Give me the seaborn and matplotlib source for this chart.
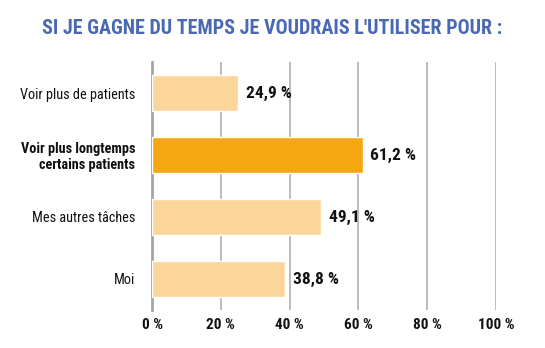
import matplotlib
matplotlib.use("Agg")
import matplotlib.pyplot as plt
import seaborn as sns
import pandas as pd

categories = ["Voir plus de patients", "Voir plus longtemps\ncertains patients", "Mes autres tâches", "Moi"]
values = [24.9, 61.2, 49.1, 38.8]
value_labels = ["24,9 %", "61,2 %", "49,1 %", "38,8 %"]
xticks = [0, 20, 40, 60, 80, 100]
xtick_labels = ["0 %", "20 %", "40 %", "60 %", "80 %", "100 %"]
highlight = [False, True, False, False]
title = "SI JE GAGNE DU TEMPS JE VOUDRAIS L'UTILISER POUR :"

sns.set_theme(style="white")
plt.rcParams['font.family'] = ['Roboto Condensed', 'DejaVu Sans']

light = "#FCD59B"
dark = "#F5A711"
colors = [dark if h else light for h in highlight]

df = pd.DataFrame({"cat": categories, "val": values})

fig = plt.figure(figsize=(5.45, 3.48), dpi=100)
ax = fig.add_axes([152/545, 1 - 310/348, (496-152)/545, (310-62)/348])

sns.barplot(data=df, y="cat", x="val", hue="cat", palette=colors, legend=False,
            orient="h", width=0.57, ax=ax, saturation=1, zorder=3)

ax.set_xlim(0, 100)
ax.set_ylim(3.5, -0.5)
ax.set_xticks(xticks)
ax.set_xticklabels(xtick_labels, fontsize=11, fontweight="bold", color="#111111")
ax.set_yticks([-0.5, 0.5, 1.5, 2.5, 3.5], minor=False)
ax.set_yticklabels([])
ax.set_yticks([0, 1, 2, 3], minor=True)
ax.set_yticklabels(categories, minor=True, fontsize=10.3, linespacing=1.15)
for i, lab in enumerate(ax.get_yticklabels(minor=True)):
    if highlight[i]:
        lab.set_fontweight("bold")
    lab.set_color("#111111")
ax.tick_params(axis="y", which="minor", length=0, pad=12)
ax.tick_params(axis="y", which="major", length=6, width=2, color="#A5A5A5", direction="out")
ax.tick_params(axis="x", length=0, pad=6)

for x in xticks[1:]:
    ax.axvline(x, color="#AAAAAA", lw=1.1, zorder=1)

for s in ["top", "right", "bottom"]:
    ax.spines[s].set_visible(False)
ax.spines["left"].set_color("#A5A5A5")
ax.spines["left"].set_linewidth(2)
ax.set_xlabel("")
ax.set_ylabel("")

for i, (v, t) in enumerate(zip(values, value_labels)):
    ax.text(v + 2.3, i, t, va="center", ha="left", fontsize=12.5, fontweight="bold", color="#111111")

fig.text(0.5, 1 - 28/348, title, ha="center", va="center", fontsize=14.5,
         fontweight="bold", color="#4A69B5")

fig.savefig("out.png", dpi=100)
